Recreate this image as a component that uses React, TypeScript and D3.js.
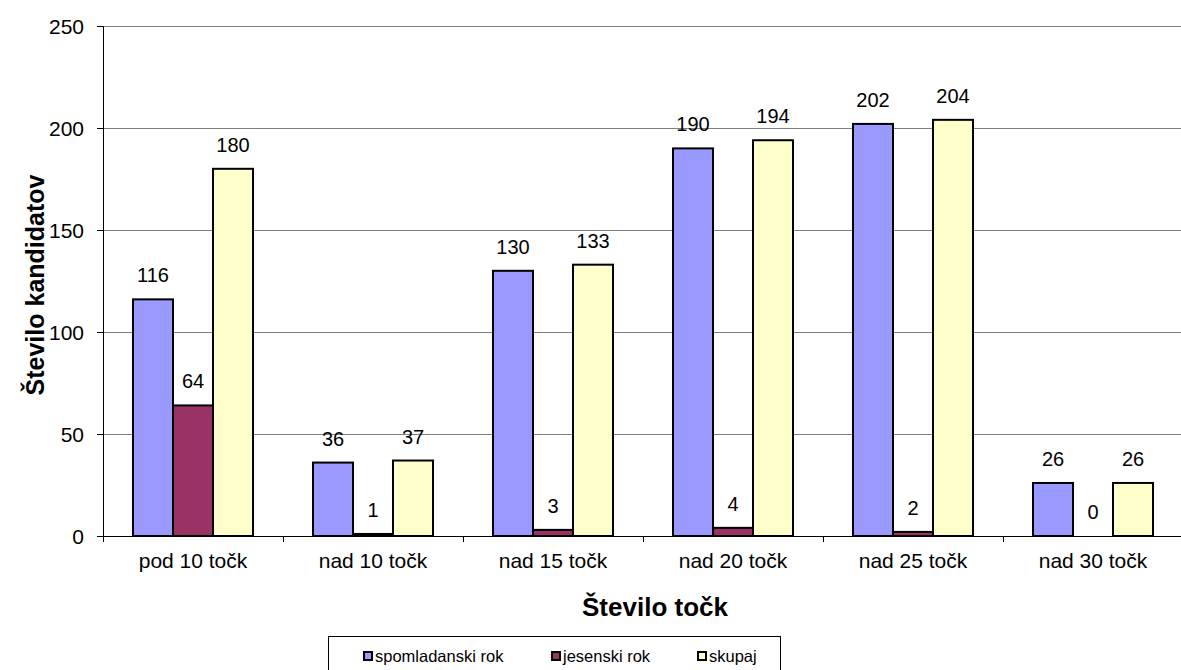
import React from "react";
import * as d3 from "d3";

const categories = ["pod 10 točk", "nad 10 točk", "nad 15 točk", "nad 20 točk", "nad 25 točk", "nad 30 točk"];
const seriesNames = ["spomladanski rok", "jesenski rok", "skupaj"];
const spomladanski = [116, 36, 130, 190, 202, 26];
const jesenski = [64, 1, 3, 4, 2, 0];
const skupaj = [180, 37, 133, 194, 204, 26];
const yTicks = [0, 50, 100, 150, 200, 250];
const colors = ["#9999FF", "#993366", "#FFFFCC"];

const W = 1181;
const H = 670;
const FONT = "'Liberation Sans', Arial, sans-serif";

export default function App() {
  const series = [spomladanski, jesenski, skupaj];
  const left = 103;
  const right = 1183;
  const top = 26;
  const bottom = 536;
  const x = d3.scaleBand<string>().domain(categories).range([left, right]).paddingInner(1 / 3).paddingOuter(1 / 6);
  const xs = d3.scaleBand<string>().domain(seriesNames).range([0, x.bandwidth()]).padding(0);
  const y = d3.scaleLinear().domain([0, 250]).range([bottom, top]);
  const step = x.step();
  const boundaries = d3.range(categories.length + 1).map((i) => left + i * step);

  const legendX = [363, 551, 697];

  return (
    <svg width={W} height={H} style={{ position: "absolute", left: 0, top: 0, background: "#fff" }} fontFamily={FONT}>
      <rect x={0} y={0} width={W} height={H} fill="#fff" />
      {/* gridlines */}
      {yTicks.filter((t) => t > 0).map((t) => (
        <line key={"g" + t} x1={left} x2={W} y1={Math.round(y(t)) + 0.5} y2={Math.round(y(t)) + 0.5} stroke="#808080" strokeWidth={1} />
      ))}
      {/* bars */}
      {categories.map((c, ci) => (
        <g key={c}>
          {series.map((s, si) => {
            const bx = (x(c) as number) + (xs(seriesNames[si]) as number);
            const bw = xs.bandwidth();
            const v = s[ci];
            return (
              <g key={si}>
                {v > 0 && (
                  <rect x={bx} y={y(v)} width={bw} height={bottom - y(v)} fill={colors[si]} stroke="#000" strokeWidth={2} />
                )}
                <text x={bx + bw / 2} y={y(v) - 17} textAnchor="middle" fontSize={20} fill="#000">
                  {v}
                </text>
              </g>
            );
          })}
        </g>
      ))}
      {/* axes */}
      <line x1={left + 0.5} x2={left + 0.5} y1={top} y2={bottom} stroke="#000" strokeWidth={1} />
      <line x1={left - 6} x2={W} y1={bottom + 0.5} y2={bottom + 0.5} stroke="#000" strokeWidth={1} />
      {yTicks.map((t) => (
        <g key={"yt" + t}>
          <line x1={left - 6} x2={left} y1={Math.round(y(t)) + 0.5} y2={Math.round(y(t)) + 0.5} stroke="#000" />
          <text x={84} y={y(t) + 7.5} textAnchor="end" fontSize={21} fill="#000">
            {t}
          </text>
        </g>
      ))}
      {boundaries.map((bx, i) => (
        <line key={"xt" + i} x1={Math.round(bx) + 0.5} x2={Math.round(bx) + 0.5} y1={bottom} y2={bottom + 6} stroke="#000" />
      ))}
      {categories.map((c) => (
        <text key={"xl" + c} x={(x(c) as number) + x.bandwidth() / 2} y={568} textAnchor="middle" fontSize={21} fill="#000">
          {c}
        </text>
      ))}
      {/* axis titles */}
      <text x={655} y={616} textAnchor="middle" fontSize={26} fontWeight="bold" fill="#000">
        Število točk
      </text>
      <text transform="translate(44,285) rotate(-90)" textAnchor="middle" fontSize={25} fontWeight="bold" fill="#000">
        Število kandidatov
      </text>
      {/* legend */}
      <rect x={328.5} y={636.5} width={452} height={60} fill="#fff" stroke="#000" strokeWidth={1} />
      {seriesNames.map((n, i) => (
        <g key={"lg" + n}>
          <rect x={legendX[i] + 1} y={652} width={8} height={8} fill={colors[i]} stroke="#000" strokeWidth={2} />
          <text x={legendX[i] + 12} y={662} fontSize={16.5} fill="#000">
            {n}
          </text>
        </g>
      ))}
    </svg>
  );
}
